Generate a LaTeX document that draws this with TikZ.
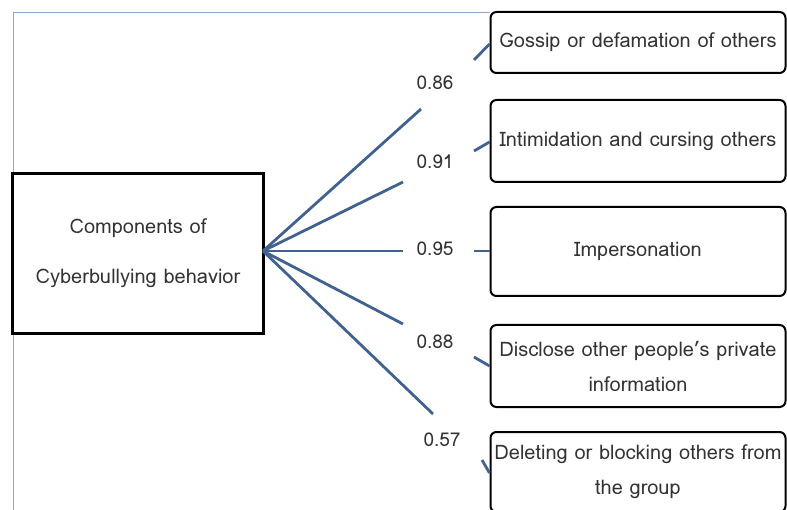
\documentclass[tikz,border=0pt]{standalone}
\usepackage{fontspec}
\setmainfont{Loma}
\definecolor{conn}{HTML}{41628F}
\definecolor{frame}{HTML}{8FA9C9}
\definecolor{txt}{HTML}{333333}
\begin{document}
\begin{tikzpicture}[x=1pt,y=-1pt,
  mainbox/.style={draw=black,line width=2.5pt,minimum width=251pt,minimum height=160pt,inner sep=0pt,align=center,text=txt,font=\fontsize{20}{50}\selectfont},
  itembox/.style={draw=black,line width=2pt,rounded corners=6pt,minimum width=295pt,inner sep=0pt,align=center,text=txt,font=\fontsize{20}{35}\selectfont},
  conn/.style={draw=conn,line width=2.8pt},
  lbl/.style={text=txt,font=\fontsize{19}{20}\selectfont,inner sep=0pt}]
\useasboundingbox (0,0) rectangle (787,510);
\draw[frame,line width=1pt] (13,510) -- (13,13) -- (490,13);
\node[mainbox] (main) at (138,253.5) {Components of\\Cyberbullying behavior};
\node[itembox,minimum height=61pt] (b1) at (638,42.5) {Gossip or defamation of others};
\node[itembox,minimum height=82pt] (b2) at (638,141) {Intimidation and cursing others};
\node[itembox,minimum height=89pt] (b3) at (638,251.5) {Impersonation};
\node[itembox,minimum height=82pt] (b4) at (638,366) {Disclose other people’s private\\information};
\node[itembox,minimum height=80pt] (b5) at (638,472) {Deleting or blocking others from\\the group};
\node[lbl] (l1) at (435,83) {0.86};
\node[lbl] (l2) at (435,162) {0.91};
\node[lbl] (l3) at (435,249) {0.95};
\node[lbl] (l4) at (435,342) {0.88};
\node[lbl] (l5) at (442,440) {0.57};
\coordinate (o) at (263,251);
\coordinate (e1) at (421,109);
\coordinate (e2) at (403,182);
\coordinate (e3) at (403,251);
\coordinate (e4) at (403,324);
\coordinate (e5) at (433,414);
\foreach \e in {e1,e2,e3,e4,e5} \draw[conn] (o) -- (\e);
\coordinate (s1) at (474,60);
\coordinate (s2) at (474,151);
\coordinate (s3) at (474,251);
\coordinate (s4) at (474,357);
\coordinate (s5) at (482,460);
\draw[conn] (s1) -- (b1.west |- 0,44);
\draw[conn] (s2) -- (b2.west |- 0,142);
\draw[conn] (s3) -- (b3.west |- 0,251);
\draw[conn] (s4) -- (b4.west |- 0,366);
\draw[conn] (s5) -- (b5.west |- 0,473);
\end{tikzpicture}
\end{document}
